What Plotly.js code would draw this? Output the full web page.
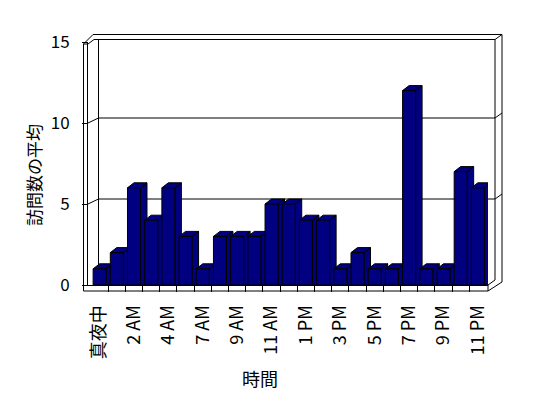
<!DOCTYPE html>
<html>
<head>
<meta charset="utf-8">
<script src="https://cdn.plot.ly/plotly-3.0.1.min.js"></script>
<style>html,body{margin:0;padding:0;background:#fff;}#chart{width:548px;height:398px;}</style>
</head>
<body>
<div id="chart"></div>
<script>
// ---- data ----
const categories = ['真夜中','1 AM','2 AM','3 AM','4 AM','6 AM','7 AM','8 AM','9 AM','10 AM','11 AM','正午',
  '1 PM','2 PM','3 PM','4 PM','5 PM','6 PM','7 PM','8 PM','9 PM','10 PM','11 PM'];
const visits = [1,2,6,4,6,3,1,3,3,3,5,5,4,4,1,2,1,1,12,1,1,7,6];
const yTicks = [0,5,10,15];
const xTitle = '時間';
const yTitle = '訪問数の平均';

// ---- geometry ----
const W = 548, H = 398;
const M = {l: 88, r: 60, t: 42, b: 113};
const PW = W - M.l - M.r, PH = H - M.t - M.b;
const xRange = [-0.675, categories.length - 1 + 0.59];
const yRange = [0, 15];
const pxPerX = PW / (xRange[1] - xRange[0]);
const pxPerY = PH / (yRange[1] - yRange[0]);
const barW = 13 / pxPerX;
const dX = 6.5 / pxPerX, dY = 5 / pxPerY;
const NAVY = '#000080';
const FONT = '"Noto Sans CJK JP", "Liberation Sans", sans-serif';

// pixel -> paper helpers for the decorative 3D frame
const PX = px => (px - M.l) / PW;
const PY = py => (H - M.b - py) / PH;
const yPix = v => H - M.b - (v - yRange[0]) * pxPerY;

const xs = categories.map((c, i) => i);
const shapes = [];
function ln(x0, y0, x1, y1) {
  shapes.push({type: 'line', xref: 'paper', yref: 'paper', x0: PX(x0), y0: PY(y0), x1: PX(x1), y1: PY(y1),
    line: {color: 'black', width: 1}, layer: 'below'});
}
const leftOuter = 83.5, backL = 98.5, backR = 495, outerR = 502, floorR = M.l + PW;
const floorBottom = H - M.b + 6;
// outer left slab and floor front
ln(leftOuter, 44, leftOuter, floorBottom);
ln(leftOuter, floorBottom, floorR, floorBottom);
ln(floorR, H - M.b, floorR, floorBottom);
ln(floorR, floorBottom, outerR, 282);
ln(floorR, H - M.b, backR, 280);
// right wall
ln(outerR, 34.5, outerR, 282);
ln(backR, 39.5, backR, 280);
// top
ln(leftOuter, 44, 93, 34.5);
ln(93, 34.5, outerR, 34.5);
ln(leftOuter, 44, M.l, 44);
ln(M.l, 44, 94, 39.5);
ln(94, 39.5, backR, 39.5);
ln(backR, 39.5, outerR, 34.5);
// back wall left edge
ln(backL, 39.5, backL, H - M.b);
// gridlines on the back wall
yTicks.filter(v => v > yRange[0] && v < yRange[1]).forEach(v => {
  const yf = yPix(v);
  ln(M.l, yf, backL, yf - 5);
  ln(backL, yf - 5, backR, yf - 5);
  ln(backR, yf - 5, outerR, yf - 10);
});
// 3D depth faces of the bars (top and side)
visits.forEach((v, i) => {
  const xl = xs[i] - barW / 2, xr = xs[i] + barW / 2;
  shapes.push({type: 'path', xref: 'x', yref: 'y', layer: 'between',
    path: `M${xl},${v} L${xl + dX},${v + dY} L${xr + dX},${v + dY} L${xr},${v} Z`,
    fillcolor: NAVY, line: {color: 'black', width: 1}});
  shapes.push({type: 'path', xref: 'x', yref: 'y', layer: 'between',
    path: `M${xr},${v} L${xr + dX},${v + dY} L${xr + dX},0 L${xr},0 Z`,
    fillcolor: NAVY, line: {color: 'black', width: 1}});
});

const labelIdx = xs.filter(i => i % 2 === 0);

const data = [{
  type: 'bar', x: xs, y: visits, width: barW,
  marker: {color: NAVY, line: {color: 'black', width: 1}},
  hoverinfo: 'skip'
}];

const layout = {
  width: W, height: H,
  margin: M,
  paper_bgcolor: 'white', plot_bgcolor: 'rgba(0,0,0,0)',
  showlegend: false,
  font: {family: FONT, color: 'black', size: 16},
  xaxis: {
    range: xRange, showgrid: false, zeroline: false,
    showline: true, linecolor: 'black', linewidth: 1,
    tickmode: 'array', tickvals: labelIdx, ticktext: labelIdx.map(i => categories[i]),
    ticks: 'outside', ticklen: 6, tickcolor: 'rgba(0,0,0,0)',
    tickangle: -90, ticklabelstandoff: 6,
    tickfont: {family: FONT, size: 18, color: 'black'},
    minor: {tickmode: 'array', tickvals: xs.slice(0, -1).map(i => i + 0.5),
      ticks: 'outside', ticklen: 6, tickcolor: 'black', tickwidth: 1, showgrid: false},
    fixedrange: true
  },
  yaxis: {
    range: yRange, showgrid: false, zeroline: false,
    showline: true, linecolor: 'black', linewidth: 1,
    tickmode: 'array', tickvals: yTicks,
    ticks: 'outside', ticklen: 5, tickcolor: 'black',
    ticklabelstandoff: 9,
    tickfont: {family: FONT, size: 17, color: 'black'},
    fixedrange: true
  },
  shapes: shapes,
  annotations: [
    {text: xTitle, xref: 'paper', yref: 'paper', x: PX(260), y: PY(378), xanchor: 'center', yanchor: 'middle',
      showarrow: false, font: {family: FONT, size: 18, color: 'black'}},
    {text: yTitle, xref: 'paper', yref: 'paper', x: PX(33), y: PY(175), xanchor: 'center', yanchor: 'middle',
      showarrow: false, textangle: -90, font: {family: FONT, size: 17, color: 'black'}}
  ]
};

Plotly.newPlot('chart', data, layout, {staticPlot: true, displayModeBar: false});
</script>
</body>
</html>
